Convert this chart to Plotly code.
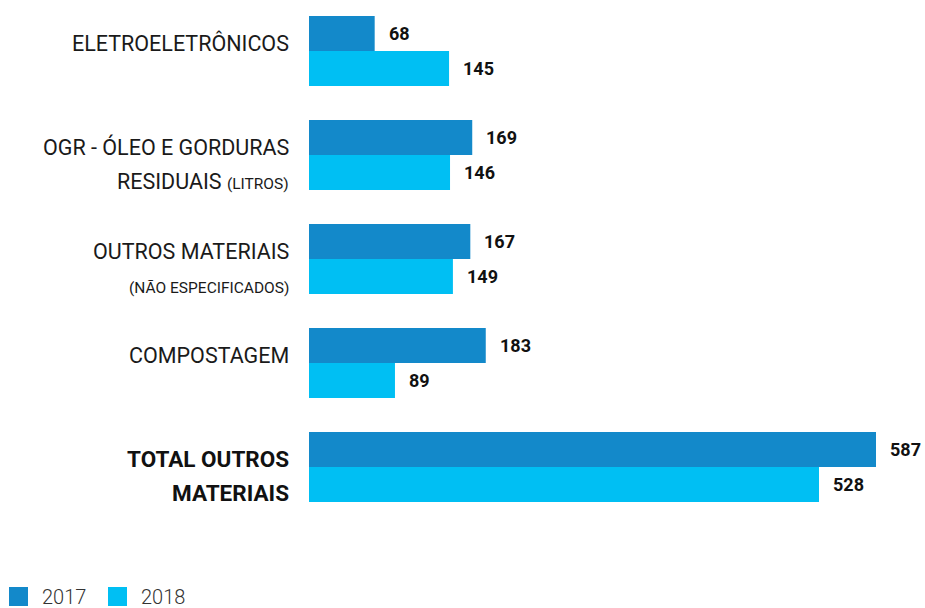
import plotly.graph_objects as go

# Categories (top to bottom) and their two-line display labels
categories = ["ELETROELETRÔNICOS", "OGR", "OUTROS MATERIAIS", "COMPOSTAGEM", "TOTAL"]
label_line1 = ["ELETROELETRÔNICOS", "OGR - ÓLEO E GORDURAS", "OUTROS MATERIAIS", "COMPOSTAGEM",
               "<b>TOTAL OUTROS</b>"]
label_line2 = ["", "RESIDUAIS <span style='font-size:15.5px'>(LITROS)</span>",
               "<span style='font-size:15.5px'>(NÃO ESPECIFICADOS)</span>", "", "<b>MATERIAIS</b>"]

years = ["2017", "2018"]
values_2017 = [68, 169, 167, 183, 587]
values_2018 = [145, 146, 149, 89, 528]

colors = {"2017": "#1389CA", "2018": "#00BFF3"}

W, H = 925, 608
left, right, top, bottom = 309, 0, 0, 68
plot_w = W - left - right
plot_h = H - top - bottom
px_per_unit = (876 - 309) / 587.0
group_px = 104.0
first_center_px = 51.0
y_top = -first_center_px / group_px
y_bot = y_top + plot_h / group_px

fig = go.Figure()
for yr, vals in zip(years, [values_2017, values_2018]):
    fig.add_trace(go.Bar(
        y=categories, x=vals, orientation="h", name=yr,
        marker=dict(color=colors[yr], line=dict(width=0)),
        showlegend=False, hoverinfo="skip",
    ))

annotations = []
label_font = dict(family="Roboto", size=21.5, color="#1a1a1a")
bold_font = dict(family="Roboto", size=22.5, color="#111111")
for cat, l1, l2 in zip(categories, label_line1, label_line2):
    f = bold_font if l1.startswith("<b>") else label_font
    annotations.append(dict(x=0, xref="paper", y=cat, yref="y", text=l1, showarrow=False,
                            xanchor="right", yanchor="middle", xshift=-18, yshift=8, font=f))
    if l2:
        shift = -29 if "NÃO" in l2 else -26
        annotations.append(dict(x=0, xref="paper", y=cat, yref="y", text=l2, showarrow=False,
                                xanchor="right", yanchor="middle", xshift=-18, yshift=shift,
                                font=f))

# Value labels beside each bar end
value_font = dict(family="Roboto", size=18, color="#111111", weight="bold")
for vals, dy in [(values_2017, 17.5), (values_2018, -17.5)]:
    for cat, v in zip(categories, vals):
        annotations.append(dict(x=v, xref="x", y=cat, yref="y", text=f"<b>{v}</b>", showarrow=False,
                                xanchor="left", yanchor="middle", xshift=12, yshift=dy,
                                font=value_font))

# Legend built from shapes and text in pixel offsets below the plot
shapes = []
legend_x = [9, 108]
for yr, lx in zip(years, legend_x):
    shapes.append(dict(type="rect", xref="paper", yref="paper", xsizemode="pixel", ysizemode="pixel",
                       xanchor=0, yanchor=0, x0=lx - left, x1=lx - left + 19,
                       y0=-(587 - plot_h), y1=-(606 - plot_h),
                       fillcolor=colors[yr], line=dict(width=0)))
    annotations.append(dict(x=0, xref="paper", y=0, yref="paper", text=yr, showarrow=False,
                            xanchor="left", yanchor="middle", xshift=lx - left + 31,
                            yshift=-(597 - plot_h),
                            font=dict(family="Roboto", size=20, color="#333333", weight=300)))

fig.update_layout(
    width=W, height=H,
    margin=dict(l=left, r=right, t=top, b=bottom, pad=0),
    paper_bgcolor="white", plot_bgcolor="white",
    barmode="group", bargap=34 / 104, bargroupgap=0,
    xaxis=dict(range=[0, plot_w / px_per_unit], visible=False, fixedrange=True),
    yaxis=dict(range=[y_bot, y_top], showticklabels=False, showgrid=False, zeroline=False,
               showline=False, ticks="", fixedrange=True),
    annotations=annotations, shapes=shapes,
)

fig.write_html("out.html")
